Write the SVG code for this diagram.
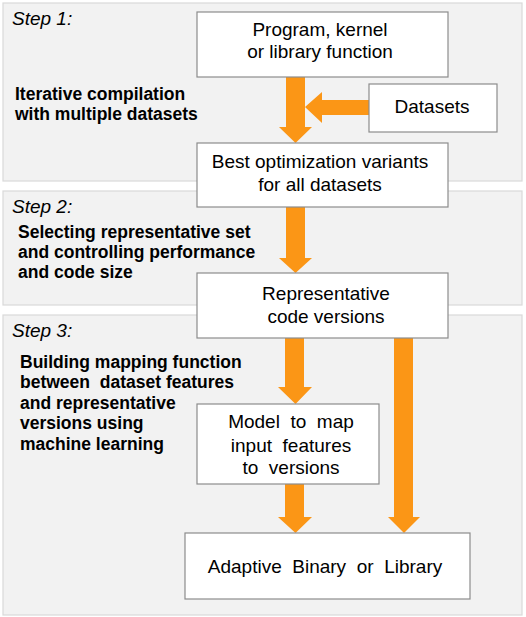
<svg xmlns="http://www.w3.org/2000/svg" width="526" height="617" viewBox="0 0 526 617">
<style>
.panel{fill:#f2f2f2;stroke:#d9d9d9;stroke-width:1.2}
.box{fill:#ffffff;stroke:#8c8c8c;stroke-width:1.2}
.arr{fill:#fb9616;stroke:none}
.t{font-family:"Liberation Sans",Arial,sans-serif;font-size:19px;fill:#000;text-anchor:middle}
.step{font-family:"Liberation Sans",Arial,sans-serif;font-size:19px;font-style:italic;fill:#000}
.b{font-family:"Liberation Sans",Arial,sans-serif;font-size:17.5px;font-weight:bold;fill:#000}
</style>
<g id="panels">
<rect class="panel" x="3" y="3" width="519" height="178"/>
<rect class="panel" x="3" y="191" width="519" height="114"/>
<rect class="panel" x="3" y="315" width="519" height="300"/>
<text class="step" x="12" y="25">Step 1:</text>
<text class="b" x="15" y="100">Iterative compilation</text>
<text class="b" x="15" y="120">with multiple datasets</text>
<text class="step" x="12" y="213">Step 2:</text>
<text class="b" x="18" y="238">Selecting representative set</text>
<text class="b" x="18" y="258">and controlling performance</text>
<text class="b" x="18" y="278">and code size</text>
<text class="step" x="12" y="337">Step 3:</text>
<text class="b" x="20" y="368" xml:space="preserve">Building mapping function</text>
<text class="b" x="20" y="388" xml:space="preserve">between  dataset features</text>
<text class="b" x="20" y="409">and representative</text>
<text class="b" x="20" y="429">versions using</text>
<text class="b" x="20" y="450">machine learning</text>
</g>
<g id="connectors">
<polygon class="arr" points="286,77 305,77 305,127 312,127 295.5,143 279,127 286,127"/>
<polygon class="arr" points="369,100 322,100 322,92 305,107 322,123 322,115 369,115"/>
<polygon class="arr" points="286,207 305,207 305,258 312,258 295.5,273 279,258 286,258"/>
<polygon class="arr" points="285,338 304,338 304,387 312,387 295.5,404 278,387 285,387"/>
<polygon class="arr" points="285,484 304,484 304,517 312,517 295.5,533 278,517 285,517"/>
<polygon class="arr" points="394,338 413,338 413,517 420,517 404,533 388,517 394,517"/>
</g>
<g id="n-program">
<rect class="box" x="197" y="12" width="251" height="65"/>
<text class="t" x="320" y="36">Program, kernel</text>
<text class="t" x="320" y="58">or library function</text>
</g>
<g id="n-datasets">
<rect class="box" x="369" y="84" width="128" height="48"/>
<text class="t" x="432" y="113">Datasets</text>
</g>
<g id="n-best">
<rect class="box" x="197" y="143" width="251" height="64"/>
<text class="t" x="320" y="168">Best optimization variants</text>
<text class="t" x="320" y="191">for all datasets</text>
</g>
<g id="n-representative">
<rect class="box" x="197" y="273" width="251" height="65"/>
<text class="t" x="326" y="300">Representative</text>
<text class="t" x="326" y="323">code versions</text>
</g>
<g id="n-model">
<rect class="box" x="197" y="404" width="182" height="80"/>
<text class="t" x="291" y="428" xml:space="preserve">Model  to  map</text>
<text class="t" x="291" y="452" xml:space="preserve">input  features</text>
<text class="t" x="291" y="474" xml:space="preserve">to  versions</text>
</g>
<g id="n-adaptive">
<rect class="box" x="185" y="533" width="285" height="66"/>
<text class="t" x="325" y="573" xml:space="preserve">Adaptive  Binary  or  Library</text>
</g>
</svg>
